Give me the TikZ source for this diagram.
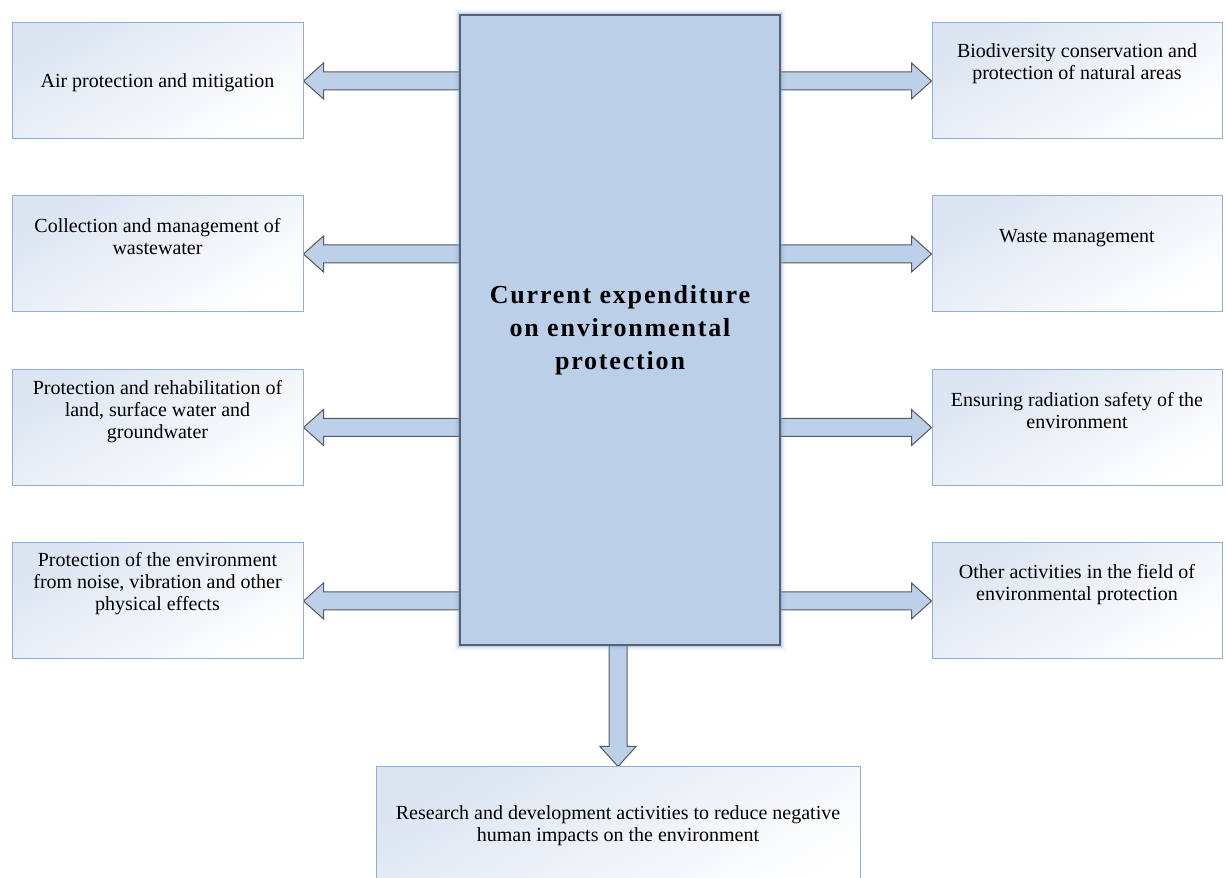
\documentclass[tikz,border=0pt]{standalone}
\usepackage{fontspec}
\setmainfont{Liberation Serif}
\usetikzlibrary{calc}

\definecolor{boxline}{RGB}{141,176,218}
\definecolor{boxtint}{RGB}{220,229,242}
\definecolor{centerfill}{RGB}{187,207,233}
\definecolor{centerline}{RGB}{88,98,110}
\definecolor{glowc}{RGB}{120,160,215}
\definecolor{arrowfill}{RGB}{188,208,234}
\definecolor{arrowline}{RGB}{88,88,92}

\pgfdeclarelayer{arrowlayer}
\pgfdeclarelayer{glowlayer}
\pgfsetlayers{arrowlayer,glowlayer,main}

% block arrow from #2 (start) to #3 (tip), coordinates named after #1
\newcommand\fatarrow[3]{%
  \coordinate (#1s) at (#2);
  \coordinate (#1t) at (#3);
  \coordinate (#1h) at ($(#1t)!20pt!(#1s)$);
  \filldraw[fat] ($(#1s)!9pt!90:(#1t)$) -- ($(#1h)!9pt!90:(#1t)$)
    -- ($(#1h)!18pt!90:(#1t)$) -- (#1t) -- ($(#1h)!18pt!-90:(#1t)$)
    -- ($(#1h)!9pt!-90:(#1t)$) -- ($(#1s)!9pt!-90:(#1t)$) -- cycle;}

\begin{document}
\begin{tikzpicture}[x=1pt,y=1pt,
  sidebox/.style={draw=boxline, line width=1pt, top color=boxtint, bottom color=white,
    shading angle=30, minimum height=116pt, inner sep=0pt},
  lbox/.style={sidebox, minimum width=291pt},
  rbox/.style={sidebox, minimum width=290pt},
  lbl/.style={align=center, inner sep=0pt, font=\fontsize{20}{22}\selectfont},
  fat/.style={fill=arrowfill, draw=arrowline, line width=1pt, line join=miter},
  centerbox/.style={draw=centerline, line width=1.3pt, fill=centerfill, inner sep=0pt,
    minimum width=320pt, minimum height=630pt}]

\useasboundingbox (0,0) rectangle (1226,878);

% central block
\node[centerbox] (c) at (620,548) {};
\node[align=center, inner sep=0pt,
  font=\fontsize{26}{33}\selectfont\bfseries\addfontfeature{LetterSpace=7}] (ct) at (c.center)
  {Current expenditure\\on environmental\\protection};

% soft halo round the central block
\begin{pgfonlayer}{glowlayer}
  \foreach \w/\o in {10/0.06,7/0.10,4.5/0.16,2.5/0.25}
    \draw[glowc, line width=\w pt, opacity=\o] (c.south west) rectangle (c.north east);
\end{pgfonlayer}

% left column
\node[lbox] (l1) at (157.5,797) {};
\node[lbox] (l2) at (157.5,624) {};
\node[lbox] (l3) at (157.5,450.5) {};
\node[lbox] (l4) at (157.5,277) {};
\node[lbl] (l1t) at ($(l1.north)+(0,-60)$) {Air protection and mitigation};
\node[lbl] (l2t) at ($(l2.north)+(0,-41)$) {Collection and management of\\wastewater};
\node[lbl] (l3t) at ($(l3.north)+(0,-43)$) {Protection and rehabilitation of\\land, surface water and\\groundwater};
\node[lbl] (l4t) at ($(l4.north)+(0,-41)$) {Protection of the environment\\from noise, vibration and other\\physical effects};

% right column
\node[rbox] (r1) at (1077,797) {};
\node[rbox] (r2) at (1077,624) {};
\node[rbox] (r3) at (1077,450.5) {};
\node[rbox] (r4) at (1077,277) {};
\node[lbl] (r1t) at ($(r1.north)+(0,-41)$) {Biodiversity conservation and\\protection of natural areas};
\node[lbl] (r2t) at ($(r2.north)+(0,-43)$) {Waste management};
\node[lbl] (r3t) at ($(r3.north)+(0,-42)$) {Ensuring radiation safety of the\\environment};
\node[lbl] (r4t) at ($(r4.north)+(0,-42)$) {Other activities in the field of\\environmental protection};

% bottom block (runs past the lower edge)
\node[sidebox, minimum width=484pt, minimum height=140pt] (b) at (618,41) {};
\node[lbl] (bt) at ($(b.north)+(0,-59)$) {Research and development activities to reduce negative\\human impacts on the environment};

% connectors
\begin{pgfonlayer}{arrowlayer}
  \foreach \n in {1,2,3,4} {
    \fatarrow{al\n}{$(c.west |- l\n.east)+(3,0)$}{l\n.east}
    \fatarrow{ar\n}{$(c.east |- r\n.west)+(-3,0)$}{r\n.west}
  }
  \fatarrow{ab}{$(c.south -| b.north)+(0,3)$}{b.north}
\end{pgfonlayer}

\end{tikzpicture}
\end{document}
